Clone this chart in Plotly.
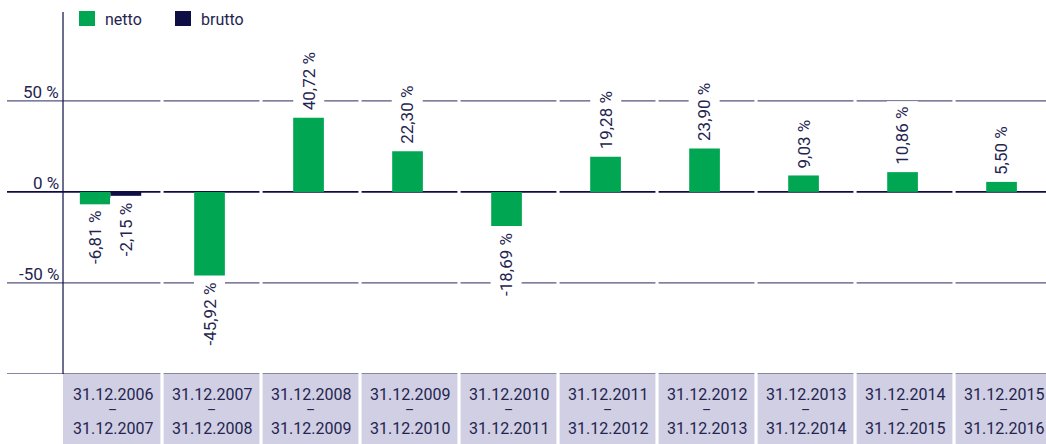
import plotly.graph_objects as go

# ---------------- data ----------------
period_start = ["31.12.2006", "31.12.2007", "31.12.2008", "31.12.2009", "31.12.2010",
                "31.12.2011", "31.12.2012", "31.12.2013", "31.12.2014", "31.12.2015"]
period_end = ["31.12.2007", "31.12.2008", "31.12.2009", "31.12.2010", "31.12.2011",
              "31.12.2012", "31.12.2013", "31.12.2014", "31.12.2015", "31.12.2016"]
netto = [-6.81, -45.92, 40.72, 22.30, -18.69, 19.28, 23.90, 9.03, 10.86, 5.50]
brutto = [-2.15, None, None, None, None, None, None, None, None, None]
y_ticks = [50, 0, -50]
y_tick_text = ["50 %", "0 %", "-50 %"]
series_names = ["netto", "brutto"]

# ---------------- style ----------------
GREEN = "#00a651"
NAVY = "#0e0e45"
TEXT = "#24244f"
GRID = "#55557c"
BOX = "#d0cfe3"
FONT = "Roboto"

n = len(netto)
xs = list(range(n))
BW = 0.31
SHIFT = -0.02
GAP = 0.016
X0, X1 = -1.0657, 9.429
Y0, Y1 = -100, 98.8

def fmt(v):
    return f"{v:.2f}".replace(".", ",") + " %"

# bar offsets: paired in categories where brutto exists, centred otherwise
net_off = [(-BW + SHIFT) if b is not None else (-BW / 2 + SHIFT) for b in brutto]
bru_off = [SHIFT for _ in brutto]

fig = go.Figure()
fig.add_trace(go.Bar(x=xs, y=netto, width=BW, offset=net_off, marker_color=GREEN,
                     marker_line_width=0, name=series_names[0], showlegend=False))
fig.add_trace(go.Bar(x=xs, y=brutto, width=BW, offset=bru_off, marker_color=NAVY,
                     marker_line_width=0, name=series_names[1], showlegend=False))

shapes = []
annotations = []

# segmented grid lines
for yv in y_ticks + [Y0]:
    for i in xs:
        left = X0 if i == 0 else i - 0.5 + GAP
        right = i + 0.5 - GAP
        shapes.append(dict(type="line", xref="x", yref="y", x0=left, x1=right, y0=yv, y1=yv,
                           line=dict(color=NAVY if yv in (0, Y0) else GRID,
                                     width=1.6 if yv == 0 else 1.2),
                           layer="below"))

# category boxes below the plot
for i in xs:
    left = -0.5 if i == 0 else i - 0.5 + GAP
    right = i + 0.5 - GAP
    shapes.append(dict(type="rect", xref="x", yref="paper", x0=left, x1=right, y0=-0.25, y1=0,
                       fillcolor=BOX, line_width=0, layer="below"))
    annotations.append(dict(x=i, y=0, xref="x", yref="paper", text=period_start[i], showarrow=False,
                            xanchor="center", yanchor="middle", yshift=-20,
                            font=dict(family=FONT, size=16, color=TEXT)))
    annotations.append(dict(x=i, y=0, xref="x", yref="paper", text="–", showarrow=False,
                            xanchor="center", yanchor="middle", yshift=-36,
                            font=dict(family=FONT, size=14, color=TEXT)))
    annotations.append(dict(x=i, y=0, xref="x", yref="paper", text=period_end[i], showarrow=False,
                            xanchor="center", yanchor="middle", yshift=-54,
                            font=dict(family=FONT, size=16, color=TEXT)))

# y axis line
shapes.append(dict(type="line", xref="x", yref="paper", x0=-0.5, x1=-0.5, y0=0, y1=1,
                   line=dict(color=NAVY, width=1.2)))

# y tick labels
for v, t in zip(y_ticks, y_tick_text):
    annotations.append(dict(x=-0.5, y=v, xref="x", yref="y", text=t, showarrow=False,
                            xanchor="right", yanchor="bottom", xshift=-2, yshift=-3,
                            font=dict(family=FONT, size=17, color=TEXT)))

# bar value labels
def add_label(xc, v):
    pos = v >= 0
    annotations.append(dict(x=xc, y=v, xref="x", yref="y", text=fmt(v), showarrow=False,
                            textangle=-90, xanchor="center",
                            yanchor="bottom" if pos else "top",
                            yshift=1 if pos else -1, bgcolor="white", borderpad=5,
                            font=dict(family=FONT, size=17, color=TEXT)))

for i in xs:
    add_label(i + net_off[i] + BW / 2, netto[i])
    if brutto[i] is not None:
        add_label(i + bru_off[i] + BW / 2, brutto[i])

# manual legend
def px_x(p):
    return (p - 7) / 1039
def px_y(p):
    return (374 - p) / 362

for name, col, sx, tx in [(series_names[0], GREEN, 79, 103), (series_names[1], NAVY, 175, 199)]:
    shapes.append(dict(type="rect", xref="paper", yref="paper", x0=px_x(sx), x1=px_x(sx + 16),
                       y0=px_y(26), y1=px_y(11), fillcolor=col, line_width=0))
    annotations.append(dict(x=px_x(tx), y=px_y(19), xref="paper", yref="paper", text=name,
                            showarrow=False, xanchor="left", yanchor="middle",
                            font=dict(family=FONT, size=16, color=TEXT)))

fig.update_layout(
    width=1046, height=444,
    margin=dict(l=7, r=0, t=12, b=70, pad=0),
    paper_bgcolor="white", plot_bgcolor="white",
    barmode="overlay", showlegend=False,
    xaxis=dict(range=[X0, X1], showgrid=False, zeroline=False, showticklabels=False,
               showline=False, ticks=""),
    yaxis=dict(range=[Y0, Y1], showgrid=False, zeroline=False, showticklabels=False,
               showline=False, ticks=""),
    shapes=shapes, annotations=annotations,
    font=dict(family=FONT, color=TEXT),
)

fig.write_html("out.html", config={"displayModeBar": False},
               post_script="document.body.style.margin='0';document.body.style.overflow='hidden';")
